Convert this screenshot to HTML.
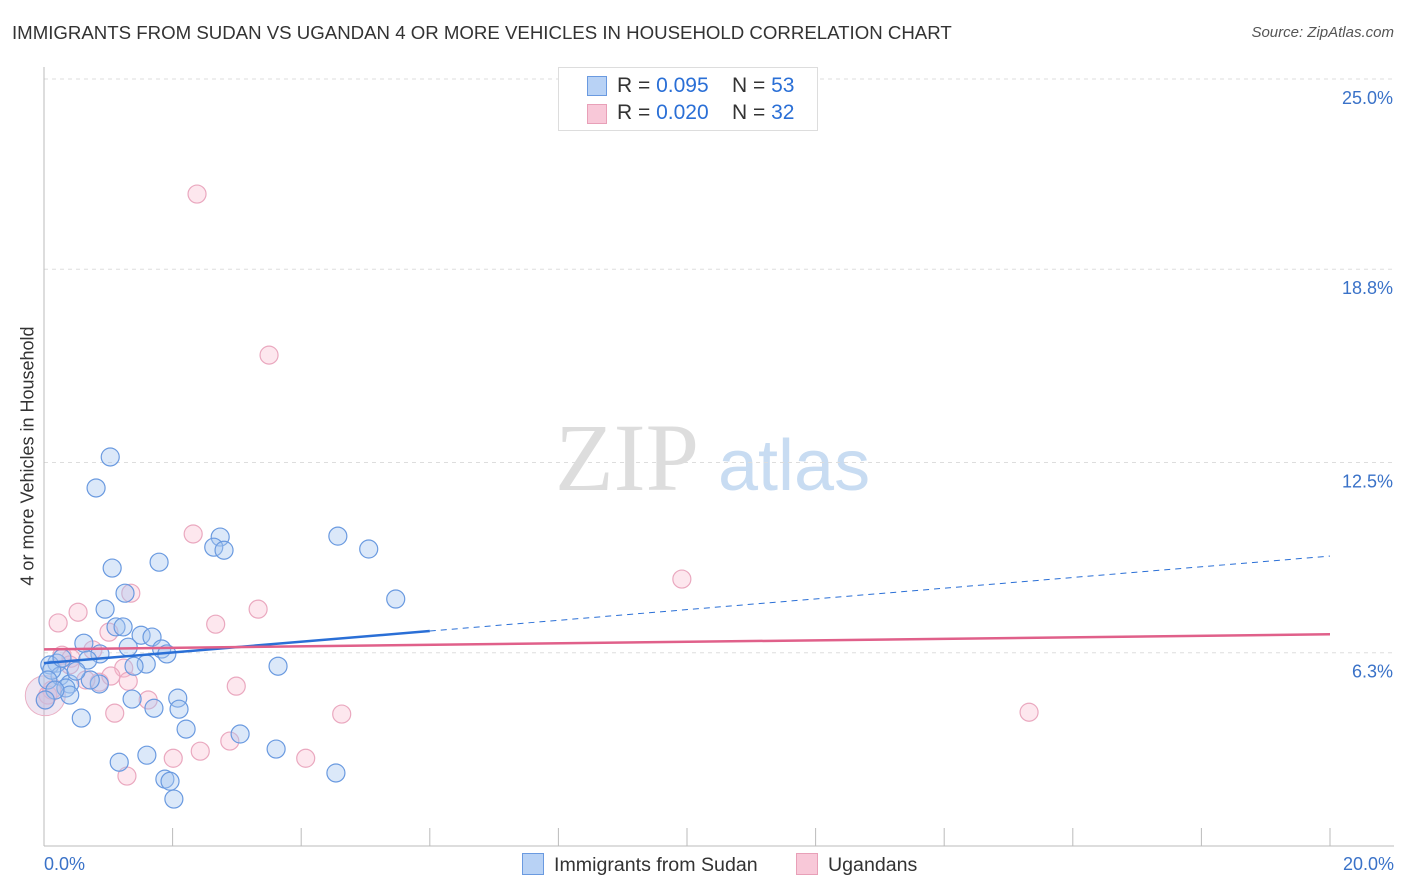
<!DOCTYPE html>
<html><head><meta charset="utf-8"><style>
body{margin:0;background:#fff;font-family:"Liberation Sans",sans-serif;}
#wrap{position:relative;width:1406px;height:892px;overflow:hidden}
.t{position:absolute;white-space:nowrap}
</style></head><body><div id="wrap">
<div class="t" style="left:12px;top:22px;font-size:18.65px;color:#333">IMMIGRANTS FROM SUDAN VS UGANDAN 4 OR MORE VEHICLES IN HOUSEHOLD CORRELATION CHART</div>
<div class="t" style="right:12px;top:24px;font-size:15px;color:#555;font-style:italic">Source: ZipAtlas.com</div>
<div class="t" style="left:28px;top:456px;font-size:18px;color:#333;transform:translate(-50%,-50%) rotate(-90deg)">4 or more Vehicles in Household</div>
<svg id="svg" width="1406" height="892" style="position:absolute;left:0;top:0"></svg>
</div>
<script>
const blueX=[1.03,0.81,2.74,2.64,2.80,4.57,5.05,1.79,1.06,1.26,5.47,0.95,1.12,1.23,1.51,1.68,0.62,1.31,1.83,1.91,0.87,0.68,0.20,0.09,1.59,1.40,0.25,3.64,0.40,0.34,0.86,0.72,0.40,1.37,2.08,2.10,1.71,0.58,2.21,3.05,1.60,1.17,3.61,4.54,1.88,1.96,2.02,0.12,0.06,0.17,0.02,0.28,0.50];
const blueY=[12.68,11.67,10.07,9.74,9.64,10.10,9.68,9.25,9.06,8.24,8.05,7.72,7.14,7.14,6.87,6.81,6.61,6.48,6.42,6.26,6.26,6.06,5.96,5.90,5.93,5.86,5.54,5.86,5.28,5.15,5.28,5.41,4.92,4.79,4.82,4.46,4.49,4.17,3.81,3.65,2.96,2.73,3.16,2.38,2.18,2.11,1.53,5.73,5.41,5.08,4.76,6.12,5.70];
const pinkX=[2.38,3.50,2.32,9.92,1.35,0.53,3.33,0.22,2.67,1.01,0.28,0.76,0.42,1.24,1.31,0.86,0.65,1.04,1.62,2.99,1.10,4.63,15.32,2.89,2.01,2.43,4.07,1.29,0.06,0.12,0.40,0.02];
const pinkY=[21.25,16.00,10.17,8.70,8.24,7.62,7.72,7.27,7.23,6.97,6.22,6.39,6.12,5.80,5.37,5.34,5.41,5.54,4.76,5.21,4.33,4.30,4.36,3.42,2.86,3.09,2.86,2.28,4.92,5.08,5.90,4.76];
const yTicks=[6.3,12.5,18.8,25.0];
const yTickLabels=["6.3%","12.5%","18.8%","25.0%"];
const blueTrend=[5.96,9.45];
const pinkTrend=[6.41,6.90];
const X0=44,X1=1330,YB=846,YT=79;
const sx=v=>X0+v/20*(X1-X0);
const sy=v=>YB-v/25*(YB-YT);
const svg=document.getElementById('svg');
const NS='http://www.w3.org/2000/svg';
function mk(t,a){const e=document.createElementNS(NS,t);for(const k in a)e.setAttribute(k,a[k]);svg.appendChild(e);return e;}
let w=mk('text',{x:555,y:490,'font-size':96,'font-family':'Liberation Serif',fill:'#ddd'});w.textContent='ZIP';


w=mk('text',{x:718,y:490,'font-size':72,'font-family':'Liberation Sans',fill:'#c8dcf2'});w.textContent='atlas';


yTicks.forEach((t,i)=>{
 const g=mk('line',{x1:X0,x2:1394,y1:sy(t),y2:sy(t),stroke:'#ddd','stroke-dasharray':'4,4'});
 
 
 const l=mk('text',{x:1393,y:sy(t)+25,'text-anchor':'end','font-size':18,fill:'#3a72c8'});l.textContent=yTickLabels[i];
 
 
});
let ax=mk('line',{x1:X0,x2:X0,y1:67,y2:YB,stroke:'#bbb'});


ax=mk('line',{x1:X0,x2:1394,y1:YB,y2:YB,stroke:'#bbb'});


for(let v=2;v<=20;v+=2){const t=mk('line',{x1:sx(v),x2:sx(v),y1:YB-18,y2:YB,stroke:'#bbb'});
 
 }
let xl=mk('text',{x:44,y:870,'font-size':18,fill:'#3a72c8'});xl.textContent='0.0%';


xl=mk('text',{x:1394,y:870,'text-anchor':'end','font-size':18,fill:'#3a72c8'});xl.textContent='20.0%';


function dots(xs,ys,fill,stroke,name){xs.forEach((x,i)=>{const c=mk('circle',{cx:sx(x),cy:sy(ys[i]),r:9,fill:fill,stroke:stroke,'stroke-width':1.2});
 
 });}
let big=mk('circle',{cx:sx(0.02),cy:sy(4.9),r:20,fill:'rgba(210,180,215,0.35)',stroke:'#eab0c4'});


dots(pinkX,pinkY,'rgba(248,185,205,0.35)','#eaa8bf','ugandans-point');
dots(blueX,blueY,'rgba(165,198,240,0.4)','#6a9ae0','sudan-point');
const xm=6;const bAt=v=>blueTrend[0]+(blueTrend[1]-blueTrend[0])*v/20;
let tl=mk('line',{x1:sx(0),y1:sy(bAt(0)),x2:sx(xm),y2:sy(bAt(xm)),stroke:'#2a6fd6','stroke-width':2.5});


tl=mk('line',{x1:sx(xm),y1:sy(bAt(xm)),x2:sx(20),y2:sy(bAt(20)),stroke:'#2a6fd6','stroke-width':1,'stroke-dasharray':'6,5'});


tl=mk('line',{x1:sx(0),y1:sy(pinkTrend[0]),x2:sx(20),y2:sy(pinkTrend[1]),stroke:'#e0608a','stroke-width':2.5});


</script>
<div style="position:absolute;left:558px;top:67px;width:258px;height:62px;border:1px solid #ddd;background:#fff;font-size:21px;color:#333">
 <div style="position:absolute;left:28px;top:8px;width:18px;height:18px;background:#b8d2f5;border:1px solid #6a9ae0"></div>
 <div class="t" style="left:58px;top:6px">R = <span style="color:#2a6fd6">0.095</span>&nbsp;&nbsp;&nbsp; N = <span style="color:#2a6fd6">53</span></div>
 <div style="position:absolute;left:28px;top:36px;width:18px;height:18px;background:#f8c8d8;border:1px solid #e8a0b8"></div>
 <div class="t" style="left:58px;top:33px">R = <span style="color:#2a6fd6">0.020</span>&nbsp;&nbsp;&nbsp; N = <span style="color:#2a6fd6">32</span></div>
</div>
<div style="position:absolute;left:522px;top:853px;font-size:19.6px;color:#333">
 <span style="position:absolute;left:0;top:0;white-space:nowrap"><span style="display:inline-block;width:20px;height:20px;background:#b8d2f5;border:1px solid #6a9ae0;vertical-align:-4px;margin-right:10px"></span>Immigrants from Sudan</span>
 <span style="position:absolute;left:274px;top:0;white-space:nowrap"><span style="display:inline-block;width:20px;height:20px;background:#f8c8d8;border:1px solid #e8a0b8;vertical-align:-4px;margin-right:10px"></span>Ugandans</span>
</div>
</body></html>
